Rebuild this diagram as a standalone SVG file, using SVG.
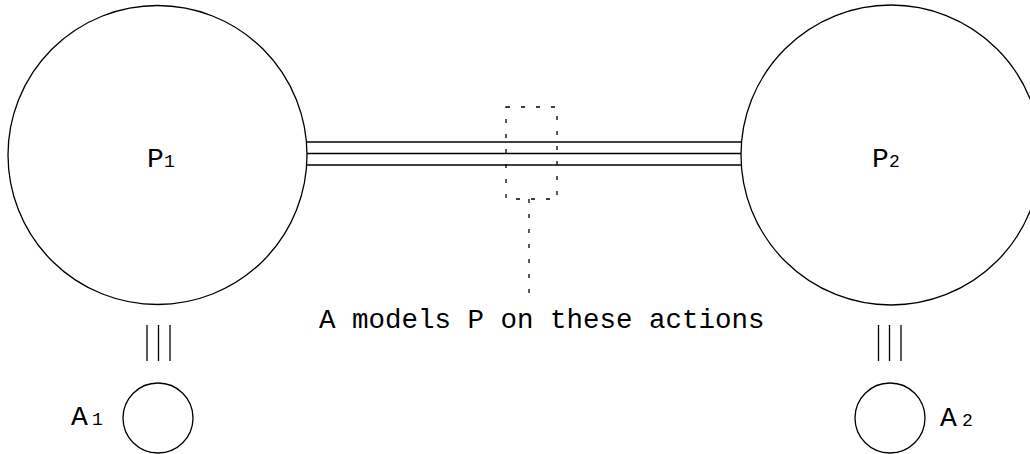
<svg xmlns="http://www.w3.org/2000/svg" width="1030" height="454" viewBox="0 0 1030 454">
<style>
.s{fill:none;stroke:#000;stroke-width:1.3}
.d{fill:none;stroke:#000;stroke-width:1.3;stroke-dasharray:4,11}
.t{font-family:"Liberation Mono","Courier New",monospace;fill:#000}
</style>
<rect width="1030" height="454" fill="#fff"/>
<g id="P1"><circle class="s" cx="157.5" cy="155" r="149.5"/><text class="t" x="147" y="167" font-size="28">P</text><text class="t" x="164" y="167" font-size="18">1</text></g>
<g id="P2"><circle class="s" cx="891" cy="155" r="150"/><text class="t" x="872" y="167" font-size="28">P</text><text class="t" x="889" y="167" font-size="18">2</text></g>
<g id="A1"><circle class="s" cx="158" cy="418" r="35"/><text class="t" x="71" y="425" font-size="28">A</text><text class="t" x="92" y="425" font-size="18">1</text></g>
<g id="A2"><circle class="s" cx="890" cy="418" r="35"/><text class="t" x="940" y="426" font-size="28">A</text><text class="t" x="962" y="426" font-size="18">2</text></g>
<g id="note"><rect class="d" x="506" y="107" width="51" height="92"/><text class="t" x="319" y="328" font-size="27.5">A models P on these actions</text></g>
<g id="connectors">
<line class="s" x1="306" y1="142" x2="742" y2="142"/>
<line class="s" x1="307" y1="153.5" x2="741" y2="153.5"/>
<line class="s" x1="306" y1="165" x2="742" y2="165"/>
<line class="s" x1="147" y1="325" x2="147" y2="361"/>
<line class="s" x1="158.5" y1="325" x2="158.5" y2="361"/>
<line class="s" x1="170" y1="325" x2="170" y2="361"/>
<line class="s" x1="878.5" y1="325" x2="878.5" y2="361"/>
<line class="s" x1="889.5" y1="325" x2="889.5" y2="361"/>
<line class="s" x1="901" y1="325" x2="901" y2="361"/>
<line class="d" x1="529" y1="199" x2="529" y2="298"/>
</g>
</svg>
